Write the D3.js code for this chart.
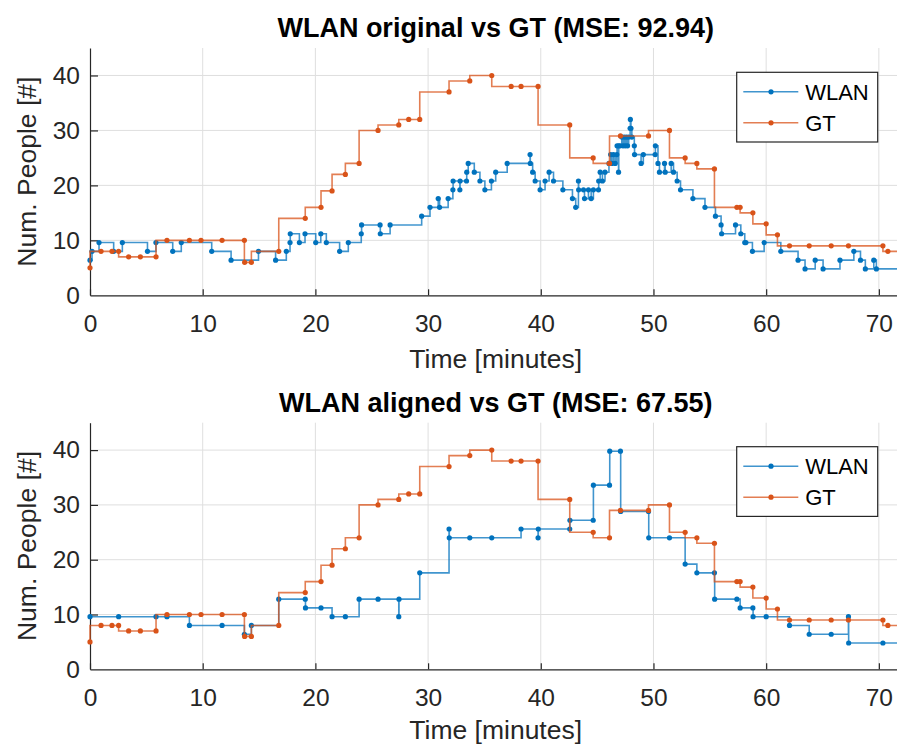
<!DOCTYPE html>
<html><head><meta charset="utf-8">
<script src="https://cdn.jsdelivr.net/npm/d3@7"></script>
<style>
body{margin:0;background:#fff}
svg{display:block}
text{font-family:"Liberation Sans",Arial,Helvetica,sans-serif}
</style>
</head><body>
<svg id="c" width="897" height="745"></svg>
<script>
// ---------- data ----------
const xTicks = [0, 10, 20, 30, 40, 50, 60, 70];
const yTicks = [0, 10, 20, 30, 40];
const titles = ["WLAN original vs GT (MSE: 92.94)", "WLAN aligned vs GT (MSE: 67.55)"];
const xLabel = "Time [minutes]";
const yLabel = "Num. People [#]";
const seriesNames = ["WLAN", "GT"];

// Ground truth (same in both panels)
const gtTime  = [0, 0.98, 1.95, 2.54, 3.43, 4.47, 5.86, 6.83, 8.82, 9.85, 11.72, 13.7, 13.72, 14.32, 16.75, 19.1, 20.5, 21.48, 22.66, 23.88, 25.56, 27.4, 28.28, 29.26, 31.86, 33.7, 35.65, 37.37, 38.25, 39.76, 42.57, 44.65, 46.1, 47.07, 49.56, 51.42, 52.81, 53.85, 55.41, 57.4, 57.69, 58.82, 60.0, 61.0, 62.07, 63.82, 65.77, 67.3, 70.36, 70.8, 72];
const gtCount = [5, 8, 8, 8, 7, 7, 7, 10, 10, 10, 10, 10, 6, 6, 8, 14, 16, 19, 22, 24, 30, 31, 32, 32, 37, 39, 40, 38, 38, 38, 31, 25, 24, 29, 29, 30, 25, 24, 23, 16, 16, 15, 13, 11, 9, 9, 9, 9, 9, 8, 8];

// WLAN original
const wlanOrigTime  = [0, 0.18, 0.8, 2.1, 2.87, 5.1, 5.85, 7.34, 8.1, 10.8, 12.52, 14.95, 16.47, 17.42, 17.75, 17.77, 18.58, 19.08, 20.03, 20.48, 20.97, 22.15, 22.92, 24.07, 24.1, 25.74, 25.76, 26.63, 29.43, 30.17, 30.9, 31.02, 31.78, 32.2, 32.22, 32.82, 32.84, 33.41, 33.43, 33.56, 34.1, 34.6, 35.04, 35.62, 36.0, 37.02, 39.05, 39.07, 39.28, 39.5, 39.94, 40.38, 40.74, 41.13, 41.96, 42.81, 43.1, 43.34, 43.36, 43.79, 43.88, 44.23, 44.47, 44.67, 45.12, 45.14, 45.27, 45.47, 45.7, 46.05, 46.2, 46.3, 46.45, 46.6, 46.75, 46.77, 46.9, 46.92, 47.04, 47.19, 47.3, 47.4, 47.5, 47.6, 47.7, 47.8, 47.93, 47.95, 48.0, 48.08, 48.3, 48.32, 48.9, 49.1, 50.15, 50.17, 50.4, 50.53, 50.98, 51.04, 51.57, 51.78, 52.1, 52.4, 53.5, 54.57, 55.5, 56.0, 56.05, 57.28, 57.75, 58.1, 58.2, 58.78, 59.82, 61.3, 62.83, 63.45, 64.35, 65.05, 66.55, 67.78, 68.37, 68.8, 69.55, 69.78, 72];
const wlanOrigCount = [6.4, 8, 9.6, 8, 9.6, 8, 9.6, 8, 9.6, 8, 6.4, 8, 6.4, 8, 9.6, 11.2, 9.6, 11.2, 9.6, 11.2, 9.6, 8, 9.6, 11.2, 12.8, 12.8, 11.2, 12.8, 14.4, 16, 17.6, 16, 17.6, 19.2, 20.8, 19.2, 20.8, 20.8, 22.4, 24, 22.4, 20.8, 19.2, 20.8, 22.4, 24, 25.6, 24, 22.4, 20.8, 19.2, 20.8, 22.4, 20.8, 19.2, 17.6, 16, 20.8, 19.2, 19.2, 17.6, 19.2, 17.6, 19.2, 19.2, 20.8, 22.4, 20.8, 22.4, 24, 25.6, 24, 25.6, 24, 25.6, 27.2, 22.4, 27.2, 27.2, 28.8, 27.2, 28.8, 27.2, 28.8, 27.2, 28.8, 30.4, 32, 30.4, 28.8, 27.2, 25.6, 24, 25.6, 25.6, 27.2, 24, 22.4, 24, 22.4, 24, 22.4, 20.8, 19.2, 17.6, 16, 14.4, 12.8, 11.2, 12.8, 11.2, 9.6, 9.6, 8, 9.6, 8, 6.4, 4.8, 6.4, 4.8, 6.4, 8, 6.4, 4.8, 6.4, 4.8, 4.8];

// WLAN aligned
const wlanAlignTime  = [0, 2.54, 5.86, 6.83, 8.82, 11.72, 13.7, 14.32, 16.75, 19.1, 19.12, 20.5, 21.48, 22.66, 23.88, 25.56, 27.4, 27.42, 29.26, 31.86, 31.88, 33.7, 35.65, 38.25, 39.76, 39.78, 42.57, 42.59, 44.65, 44.67, 46.1, 46.12, 47.07, 47.09, 49.56, 49.58, 51.42, 52.81, 53.85, 55.41, 55.43, 57.4, 57.69, 58.82, 58.84, 60.0, 62.07, 63.82, 65.77, 67.3, 67.32, 70.36, 72];
const wlanAlignCount = [9.6, 9.6, 9.6, 9.6, 8, 8, 6.4, 8, 12.8, 12.8, 11.2, 11.2, 9.6, 9.6, 12.8, 12.8, 9.6, 12.8, 17.6, 25.6, 24, 24, 24, 25.6, 24, 25.6, 25.6, 27.2, 27.2, 33.6, 33.6, 39.8, 39.8, 28.8, 28.8, 24, 24, 19.2, 17.6, 17.6, 12.8, 12.8, 11.2, 11.2, 9.6, 9.6, 8, 6.4, 6.4, 9.6, 4.8, 4.8, 4.8];

// ---------- drawing ----------
const blue = "#0072BD", orange = "#D95319", axisCol = "#262626", gridCol = "#dfdfdf";
const svg = d3.select("#c");
const x = d3.scaleLinear().domain([0, 72]).range([90, 901.4]);

const panels = [
  {top: 48, bottom: 295.3, titleY: 37, xlabY: 368, legTop: 72.3, wt: wlanOrigTime, wv: wlanOrigCount, title: titles[0]},
  {top: 422.7, bottom: 669.3, titleY: 411.5, xlabY: 738.5, legTop: 446.7, wt: wlanAlignTime, wv: wlanAlignCount, title: titles[1]}
];

panels.forEach(p => {
  const y = d3.scaleLinear().domain([0, 45]).range([p.bottom, p.top]);
  const g = svg.append("g");

  // grid
  g.append("g").selectAll("line").data(xTicks.filter(d => d > 0)).join("line")
    .attr("x1", d => x(d)).attr("x2", d => x(d)).attr("y1", p.top).attr("y2", p.bottom)
    .attr("stroke", gridCol).attr("stroke-width", 1);
  g.append("g").selectAll("line").data(yTicks.filter(d => d > 0)).join("line")
    .attr("x1", x(0)).attr("x2", x(72)).attr("y1", d => y(d)).attr("y2", d => y(d))
    .attr("stroke", gridCol).attr("stroke-width", 1);

  // axes
  const ax = g.append("g").attr("transform", `translate(0,${p.bottom})`)
    .call(d3.axisBottom(x).tickValues(xTicks).tickSizeInner(-6).tickSizeOuter(0).tickPadding(19));
  const ay = g.append("g").attr("transform", `translate(${x(0)},0)`)
    .call(d3.axisLeft(y).tickValues(yTicks).tickSizeInner(-8).tickSizeOuter(0).tickPadding(10));
  [ax, ay].forEach(a => {
    a.select(".domain").attr("stroke", axisCol).attr("stroke-width", 1.2);
    a.selectAll(".tick line").attr("stroke", axisCol).attr("stroke-width", 1.2);
    a.selectAll(".tick text").attr("fill", axisCol).style("font-size", "24.5px")
      .style("font-family", '"Liberation Sans",Arial,sans-serif');
  });
  ay.selectAll(".tick line").filter(d => d === 0).remove();

  // series
  const pts = (ts, vs) => ts.map((t, i) => [t, vs[i]]);
  const draw = (data, color, curve) => {
    g.append("path").datum(data)
      .attr("d", d3.line().x(d => x(d[0])).y(d => y(d[1])).curve(curve))
      .attr("fill", "none").attr("stroke", color).attr("stroke-width", 1.6).attr("stroke-opacity", 0.75);
    g.append("g").selectAll("circle").data(data).join("circle")
      .attr("cx", d => x(d[0])).attr("cy", d => y(d[1])).attr("r", 2.6).attr("fill", color);
  };
  draw(pts(p.wt, p.wv), blue, d3.curveStepAfter);
  draw(pts(gtTime, gtCount), orange, d3.curveStepBefore);

  // title
  g.append("text").attr("x", (x(0) + x(72)) / 2).attr("y", p.titleY).attr("text-anchor", "middle")
    .style("font-size", "27px").style("font-weight", "bold").attr("fill", "#000").text(p.title);
  // x label
  g.append("text").attr("x", (x(0) + x(72)) / 2).attr("y", p.xlabY).attr("text-anchor", "middle")
    .style("font-size", "26.5px").attr("fill", axisCol).text(xLabel);
  // y label
  g.append("text").attr("transform", `translate(36,${(p.top + p.bottom) / 2}) rotate(-90)`)
    .attr("text-anchor", "middle").style("font-size", "26.5px").attr("fill", axisCol).text(yLabel);

  // legend
  const lx = 736.7, lw = 141, lh = 69.7;
  const lg = g.append("g");
  lg.append("rect").attr("x", lx).attr("y", p.legTop).attr("width", lw).attr("height", lh)
    .attr("fill", "#fff").attr("stroke", axisCol).attr("stroke-width", 1.2);
  [[seriesNames[0], blue], [seriesNames[1], orange]].forEach((e, i) => {
    const ry = p.legTop + 19.5 + i * 31;
    lg.append("line").attr("x1", lx + 6.6).attr("x2", lx + 61.6).attr("y1", ry).attr("y2", ry)
      .attr("stroke", e[1]).attr("stroke-width", 1.6).attr("stroke-opacity", 0.75);
    lg.append("circle").attr("cx", lx + 34.3).attr("cy", ry).attr("r", 2.6).attr("fill", e[1]);
    lg.append("text").attr("x", lx + 68.5).attr("y", ry + 8).style("font-size", "22px")
      .attr("fill", "#000").text(e[0]);
  });
});
</script>
</body></html>
